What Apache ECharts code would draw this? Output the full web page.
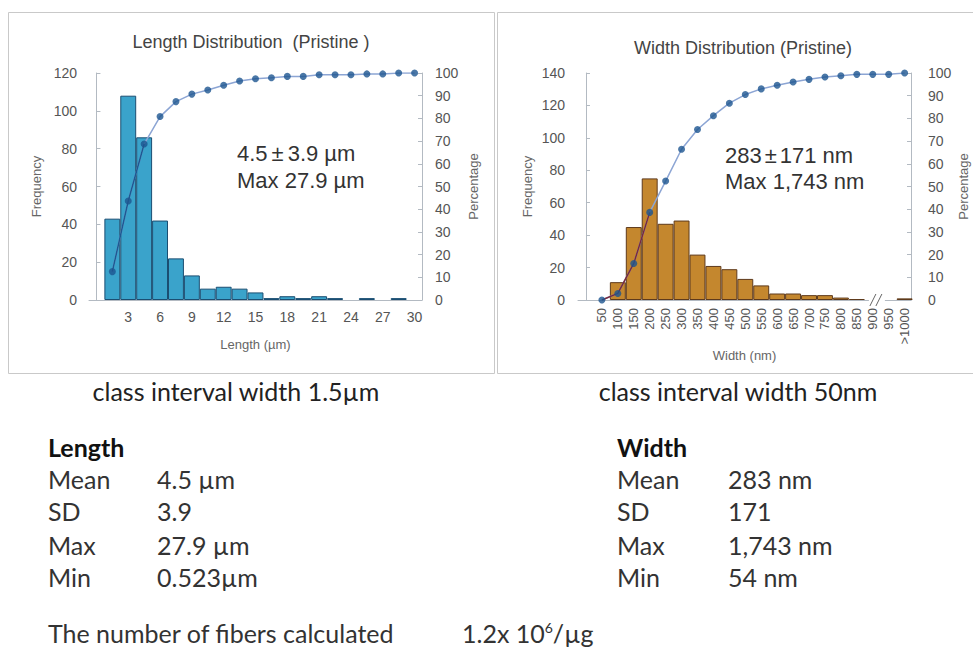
<!DOCTYPE html>
<html><head><meta charset="utf-8">
<script src="https://cdn.jsdelivr.net/npm/echarts@6/dist/echarts.min.js"></script>
<style>html,body{margin:0;padding:0;background:#fff}#c{width:973px;height:647px}</style>
</head><body><div id="c"></div>
<script>
// ---- data ----
const lengthBins = [1.5,3,4.5,6,7.5,9,10.5,12,13.5,15,16.5,18,19.5,21,22.5,24,25.5,27,28.5,30];
const lengthFreq = [43,108,86,42,22,13,6,7,6,4,1,2,1,2,1,0,1,0,1,0];
const lengthCum  = [12.5,43.6,68.7,80.8,87.4,90.7,92.5,94.6,96.5,97.5,97.9,98.5,98.5,99.2,99.2,99.2,99.6,99.6,100,100];
const lengthTicks = [3,6,9,12,15,18,21,24,27,30];

const widthBins   = [50,100,150,200,250,300,350,400,450,500,550,600,650,700,750,800,850,900,950,1000];
const widthLabels = ['50','100','150','200','250','300','350','400','450','500','550','600','650','700','750','800','850','900','950','>1000'];
const widthFreq = [0,11,45,75,47,49,28,21,19,13,9,4,4,3,3,1.5,0.6,0,0,1];
const widthCum  = [0,2.9,16.1,38.6,52.4,66.4,75.1,81.2,86.7,90.5,93,94.6,96,97.2,98.2,98.8,99.4,99.4,99.4,100];

const lengthStats = [['Mean','4.5 µm'],['SD','3.9'],['Max','27.9 µm'],['Min','0.523µm']];
const widthStats  = [['Mean','283 nm'],['SD','171'],['Max','1,743 nm'],['Min','54 nm']];

// ---- styles ----
const F = 'Liberation Sans, Arial, sans-serif';
const FB = 'Lato, Open Sans, sans-serif';
const axisColor = '#b3bac2';
const labelColor = '#555';
const G0 = {left:89, top:73, width:333, height:227};
const G1 = {left:578, top:73, width:333, height:227};
const X0 = {min:-0.7, max:30.7};
const X1 = {min:-25, max:1020};
const bw0 = G0.width / (X0.max - X0.min) * 1.5;
const bw1 = G1.width / (X1.max - X1.min) * 50;

function yAx(grid, pos, max, interval, name, gap, margin) {
  return {
    type:'value', gridIndex:grid, position:pos, min:0, max:max, interval:interval,
    axisLine:{show:true, lineStyle:{color:axisColor, width:1}},
    axisTick:{show:true, inside:true, length:4, lineStyle:{color:axisColor}},
    splitLine:{show:false},
    axisLabel:{color:labelColor, fontSize:14, fontFamily:F, margin:margin},
    name:name, nameLocation:'middle', nameRotate:90, nameGap:gap,
    nameTextStyle:{color:'#666', fontSize:13, fontFamily:F}
  };
}
const nz = v => (v === 0 ? null : v);

const chart = echarts.init(document.getElementById('c'), null, {renderer:'svg', width:973, height:647});
const option = {
  animation:false,
  backgroundColor:'#fff',
  grid:[Object.assign({containLabel:false}, G0), Object.assign({containLabel:false}, G1)],
  xAxis:[
    {type:'value', gridIndex:0, min:X0.min, max:X0.max,
     axisLine:{show:true, onZero:false, lineStyle:{color:axisColor}}, axisTick:{show:false}, splitLine:{show:false},
     axisLabel:{customValues:lengthTicks, color:labelColor, fontSize:14, fontFamily:F, margin:10},
     name:'Length (µm)', nameLocation:'middle', nameGap:38, nameTextStyle:{color:'#666', fontSize:13, fontFamily:F}},
    {type:'value', gridIndex:1, min:X1.min, max:X1.max,
     axisLine:{show:true, onZero:false, lineStyle:{color:axisColor}}, axisTick:{show:false}, splitLine:{show:false},
     axisLabel:{customValues:widthBins, rotate:90, color:labelColor, fontSize:13, fontFamily:F, margin:8,
       formatter: v => widthLabels[widthBins.indexOf(v)]},
     name:'Width (nm)', nameLocation:'middle', nameGap:49, nameTextStyle:{color:'#666', fontSize:13, fontFamily:F}}
  ],
  yAxis:[
    yAx(0,'left',120,20,'Frequency',46,12),
    yAx(0,'right',100,10,'Percentage',45,13),
    yAx(1,'left',140,20,'Frequency',44,13),
    yAx(1,'right',100,10,'Percentage',46,17)
  ],
  series:[
    {type:'bar', xAxisIndex:0, yAxisIndex:0, barWidth:bw0, z:1,
     data:lengthBins.map((x,i)=>[x, nz(lengthFreq[i])]),
     itemStyle:{color:'#3aa3cb', borderColor:'#1b4e72', borderWidth:1}},
    {type:'line', xAxisIndex:0, yAxisIndex:1, z:2, symbol:'none',
     data:lengthBins.map((x,i)=>[x, lengthCum[i]]),
     lineStyle:{color:'#8ca5d4', width:1.5}},
    {type:'line', xAxisIndex:0, yAxisIndex:1, z:3, symbol:'none',
     data:lengthBins.slice(0,3).map((x,i)=>[x, lengthCum[i]]),
     lineStyle:{color:'#1c5a93', width:1.5}},
    {type:'scatter', xAxisIndex:0, yAxisIndex:1, z:4, symbol:'circle', symbolSize:7,
     data:lengthBins.map((x,i)=>[x, lengthCum[i]]), itemStyle:{color:'#1d5590'}},

    {type:'bar', xAxisIndex:1, yAxisIndex:2, barWidth:bw1, z:1,
     data:widthBins.map((x,i)=>[x, nz(widthFreq[i])]),
     itemStyle:{color:'#c4872e', borderColor:'#5e3a1c', borderWidth:1}},
    {type:'line', xAxisIndex:1, yAxisIndex:3, z:2, symbol:'none',
     data:widthBins.map((x,i)=>[x, widthCum[i]]),
     lineStyle:{color:'#8ca5d4', width:1.5}},
    {type:'line', xAxisIndex:1, yAxisIndex:3, z:3, symbol:'none',
     data:widthBins.slice(0,4).map((x,i)=>[x, widthCum[i]]),
     lineStyle:{color:'#7a2a3c', width:1.5}},
    {type:'scatter', xAxisIndex:1, yAxisIndex:3, z:4, symbol:'circle', symbolSize:7,
     data:widthBins.map((x,i)=>[x, widthCum[i]]), itemStyle:{color:'#1d5590'}}
  ]
};
chart.setOption(option);

// ---- free text, panel frames, axis break ----
function txt(x, y, text, font, fill, align, extra) {
  return {type:'text', x:x, y:y, z:10,
    style:Object.assign({text:text, font:font, fill:fill, align:align||'left', verticalAlign:'middle',
      textAlign:align||'left', textVerticalAlign:'middle'}, extra||{})};
}
const g = [];
g.push({type:'rect', shape:{x:8.5, y:12.5, width:486, height:361}, style:{fill:'none', stroke:'#c9c9c9', lineWidth:1}, z:0});
g.push({type:'rect', shape:{x:497.5, y:12.5, width:480, height:361}, style:{fill:'none', stroke:'#c9c9c9', lineWidth:1}, z:0});
g.push(txt(251, 42, 'Length Distribution  (Pristine )', '18px ' + F, '#444', 'center'));
g.push(txt(743, 48, 'Width Distribution (Pristine)', '18px ' + F, '#444', 'center'));
g.push({type:'text', x:237, y:153, z:10, style:{text:'4.5{p|±}3.9 µm', font:'22px ' + F, fill:'#333', verticalAlign:'middle', textVerticalAlign:'middle',
  rich:{p:{fontSize:22, fontFamily:F, padding:[0,4,0,4], fill:'#333'}}}});
g.push(txt(237, 180, 'Max 27.9 µm', '22px ' + F, '#333'));
g.push({type:'text', x:725, y:155, z:10, style:{text:'283{p|±}171 nm', font:'22px ' + F, fill:'#333', verticalAlign:'middle', textVerticalAlign:'middle',
  rich:{p:{fontSize:22, fontFamily:F, padding:[0,3,0,3], fill:'#333'}}}});
g.push(txt(725, 181, 'Max 1,743 nm', '22px ' + F, '#333'));

// axis break marker between 900 and 950
const bp = chart.convertToPixel({xAxisIndex:1, yAxisIndex:2}, [913, 0]);
g.push({type:'rect', shape:{x:bp[0]-8, y:bp[1]-2, width:16, height:4}, style:{fill:'#fff'}, z:9});
g.push({type:'line', shape:{x1:bp[0]-7, y1:bp[1]+6, x2:bp[0]-1, y2:bp[1]-6}, style:{stroke:'#666', lineWidth:1}, z:10});
g.push({type:'line', shape:{x1:bp[0]-1, y1:bp[1]+6, x2:bp[0]+5, y2:bp[1]-6}, style:{stroke:'#666', lineWidth:1}, z:10});

// text below charts
const BF = '25px ' + FB;
g.push(txt(236, 391, 'class interval width 1.5µm', BF, '#222', 'center'));
g.push(txt(738, 391, 'class interval width 50nm', BF, '#222', 'center'));
g.push(txt(48, 447, 'Length', 'bold ' + BF, '#111'));
g.push(txt(617, 447, 'Width', 'bold ' + BF, '#111'));
const rowsY = [479, 511, 545, 577];
lengthStats.forEach((r,i) => { g.push(txt(48, rowsY[i], r[0], BF, '#333')); g.push(txt(157, rowsY[i], r[1], BF, '#333')); });
widthStats.forEach((r,i) => { g.push(txt(617, rowsY[i], r[0], BF, '#333')); g.push(txt(728, rowsY[i], r[1], BF, '#333')); });
g.push(txt(48, 633, 'The number of fibers calculated', BF, '#333'));
g.push({type:'text', x:462, y:633, z:10, style:{text:'1.2x 10{s|6}/µg', font:BF, fill:'#333', verticalAlign:'middle', textVerticalAlign:'middle',
  rich:{s:{fontSize:14, fontFamily:FB, verticalAlign:'top', fill:'#333', lineHeight:25}}}});

chart.setOption({graphic:g});
</script>
</body></html>
